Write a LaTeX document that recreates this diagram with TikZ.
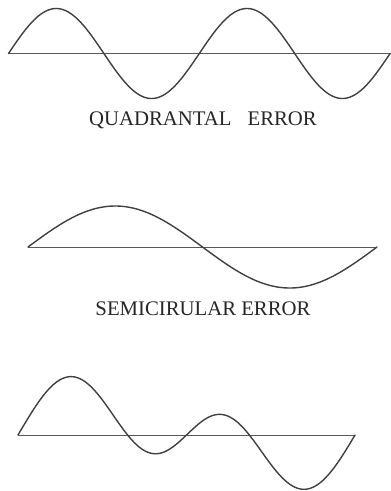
\documentclass[tikz,border=0pt]{standalone}
\usepackage{fontspec}
\setmainfont{Liberation Serif}
\begin{document}
\begin{tikzpicture}[x=1pt,y=-1pt,
  wave/.style={line width=1.4pt, color=black!75, line join=round, line cap=round},
  axis/.style={line width=1pt, color=black!65},
  caption/.style={anchor=base, inner sep=0pt, text=black!85, font=\fontsize{20.75}{24}\selectfont}]
\useasboundingbox (0,0) rectangle (391,491);
% Quadrantal error
\draw[axis] (8.5,53.5) -- (391,53.5);
\draw[wave] plot[domain=8.5:390, samples=240, variable=\x] ({\x},{53.5-45*sin(((\x-8.5)/95.4)*180)});
\node[caption] (qe) at (203,125) {QUADRANTAL\hspace{16pt}ERROR};
% Semicircular error
\draw[axis] (28,247) -- (377,247);
\draw[wave] plot[domain=28:377, samples=200, variable=\x] ({\x},{247-41*sin(((\x-28)/349)*360)});
\node[caption] (se) at (203,315) {SEMICIRULAR ERROR};
% Combined
\draw[axis] (18,435) -- (355,435);
\draw[wave] plot[domain=18:355, samples=240, variable=\x]
  ({\x},{435-(0.95*(30.6*sin(((\x-18)/337)*360)+37.3*sin(((\x-18)/337)*720)-3.3*sin(((\x-18)/337)*1080))+3*pow(sin(((\x-18)/337)*360),2))});
\end{tikzpicture}
\end{document}
